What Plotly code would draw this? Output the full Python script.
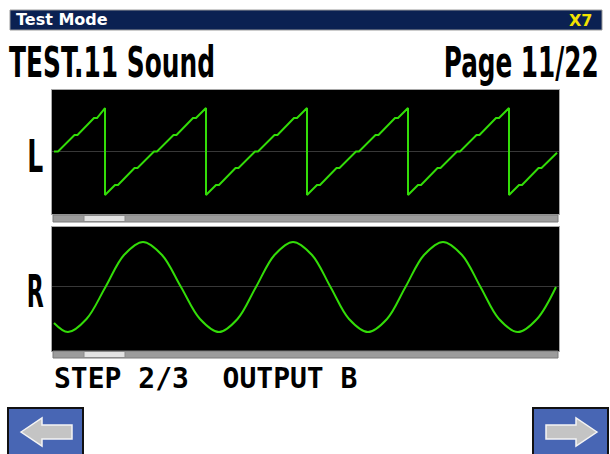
import plotly.graph_objects as go

W, H = 610, 454

# ---- data ----
# Left channel: stepped sawtooth (time in screen samples, level in units of amplitude)
left_t = [2, 6, 22.5, 25.5, 42, 45, 53, 53,
          63, 66, 82.5, 85.5, 102, 105, 121.5, 124.5, 141, 144, 154, 154,
          164, 167, 183.5, 186.5, 203, 206, 222.5, 225.5, 242, 245, 255, 255,
          265, 268, 284.5, 287.5, 304, 307, 323.5, 326.5, 343, 346, 356, 356,
          366, 369, 385.5, 388.5, 405, 408, 424.5, 427.5, 444, 447, 457, 457,
          467, 470, 486.5, 489.5, 505]
left_v = [0, 0, 0.38, 0.38, 0.77, 0.77, 1, -1,
          -0.77, -0.77, -0.38, -0.38, 0, 0, 0.38, 0.38, 0.77, 0.77, 1, -1,
          -0.77, -0.77, -0.38, -0.38, 0, 0, 0.38, 0.38, 0.77, 0.77, 1, -1,
          -0.77, -0.77, -0.38, -0.38, 0, 0, 0.38, 0.38, 0.77, 0.77, 1, -1,
          -0.77, -0.77, -0.38, -0.38, 0, 0, 0.38, 0.38, 0.77, 0.77, 1, -1,
          -0.77, -0.77, -0.38, -0.38, -0.03]

# Right channel: sine
right_t = [2, 16, 34.5, 53.5, 72, 91, 110, 129, 148, 167, 185.5, 204, 222.5, 241,
           260, 278.5, 297, 316, 335, 353.5, 372, 391, 410, 428.5, 447, 466, 485, 504]
right_v = [-0.8, -1, -0.71, 0, 0.71, 1, 0.71, 0, -0.71, -1, -0.71, 0, 0.71, 1,
           0.71, 0, -0.71, -1, -0.71, 0, 0.71, 1, 0.71, 0, -0.71, -1, -0.71, 0]

header_left = "Test Mode"
header_right = "X7"
title_left = "TEST.11 Sound"
title_right = "Page 11/22"
channel_labels = ["L", "R"]
status_text = "STEP 2/3  OUTPUT B"

# ---- helpers (pixel -> paper) ----
def px(x):
    return x / W

def py(y):
    return 1 - y / H

GREEN = "#33dd08"

fig = go.Figure()
fig.add_trace(go.Scatter(x=left_t, y=left_v, mode="lines",
                         line=dict(color=GREEN, width=2), xaxis="x", yaxis="y",
                         hoverinfo="skip"))
fig.add_trace(go.Scatter(x=right_t, y=right_v, mode="lines",
                         line=dict(color=GREEN, width=2, shape="spline"),
                         xaxis="x2", yaxis="y2", hoverinfo="skip"))

axis_common = dict(showgrid=False, showticklabels=False, ticks="", showline=True,
                   mirror=True, linecolor="#a8a8a8", linewidth=1, fixedrange=True)

fig.update_layout(
    width=W, height=H, margin=dict(l=0, r=0, t=0, b=0),
    paper_bgcolor="white", plot_bgcolor="black", showlegend=False,
    xaxis=dict(domain=[px(52), px(559)], range=[0, 507], zeroline=False, anchor="y", **axis_common),
    yaxis=dict(domain=[py(214), py(90)], range=[-1.437, 1.414], zeroline=True,
               zerolinecolor="#383838", zerolinewidth=1, anchor="x", **axis_common),
    xaxis2=dict(domain=[px(52), px(559)], range=[0, 507], zeroline=False, anchor="y2", **axis_common),
    yaxis2=dict(domain=[py(351), py(227)], range=[-1.42, 1.33], zeroline=True,
                zerolinecolor="#383838", zerolinewidth=1, anchor="x2", **axis_common),
)

shapes = []
# header bar
shapes.append(dict(type="rect", xref="paper", yref="paper", x0=px(10), x1=px(602), y0=py(30), y1=py(10),
                   fillcolor="#0b2152", line=dict(color="#9a9a9a", width=1), layer="below"))
# scroll strips + thumbs
for top in (215, 351):
    shapes.append(dict(type="rect", xref="paper", yref="paper", x0=px(53), x1=px(558),
                       y0=py(top + 7), y1=py(top), fillcolor="#9c9c9c",
                       line=dict(color="#7a7a7a", width=1)))
    shapes.append(dict(type="rect", xref="paper", yref="paper", x0=px(84), x1=px(125),
                       y0=py(top + 6.5), y1=py(top + 0.5), fillcolor="#e2e2e2",
                       line=dict(color="#8a8a8a", width=1)))
# buttons
for bx0, bx1 in ((8, 83), (533, 608)):
    shapes.append(dict(type="rect", xref="paper", yref="paper", x0=px(bx0), x1=px(bx1),
                       y0=py(458), y1=py(408), fillcolor="#4866b4",
                       line=dict(color="#111111", width=2)))

def path(points):
    s = "M " + " L ".join(f"{px(x):.5f},{py(y):.5f}" for x, y in points) + " Z"
    return s

left_arrow = [(21, 432), (42, 418), (42, 425), (72, 425), (72, 439), (42, 439), (42, 446)]
right_arrow = [(597, 432), (576, 418), (576, 425), (546, 425), (546, 439), (576, 439), (576, 446)]
for pts in (left_arrow, right_arrow):
    shapes.append(dict(type="path", xref="paper", yref="paper", path=path(pts),
                       fillcolor="#c4c4c4", line=dict(color="#f4f4f4", width=1.5)))
fig.update_layout(shapes=shapes)

BIG = "DejaVu Sans"
ann = []
ann.append(dict(text="<b>" + header_left + "</b>", x=px(14), y=py(19.5), xanchor="left", yanchor="middle",
                font=dict(family="DejaVu Sans", size=16, color="white")))
ann.append(dict(text="<b>" + header_right + "</b>", x=px(594), y=py(20.5), xanchor="right", yanchor="middle",
                font=dict(family="DejaVu Sans", size=16, color="#f2e200")))
ann.append(dict(text="<b>" + title_left + "</b>", x=px(7), y=py(62), xanchor="left", yanchor="middle",
                font=dict(family=BIG, size=43, color="black")))
ann.append(dict(text="<b>" + title_right + "</b>", x=px(601), y=py(62), xanchor="right", yanchor="middle",
                font=dict(family=BIG, size=43, color="black")))
ann.append(dict(text="<b>" + channel_labels[0] + "</b>", x=px(35), y=py(156.5), xanchor="center", yanchor="middle",
                font=dict(family=BIG, size=45, color="black")))
ann.append(dict(text="<b>" + channel_labels[1] + "</b>", x=px(35), y=py(291), xanchor="center", yanchor="middle",
                font=dict(family=BIG, size=45, color="black")))
ann.append(dict(text="<b>" + status_text + "</b>", x=px(52), y=py(378.5), xanchor="left", yanchor="middle",
                font=dict(family="DejaVu Sans Mono", size=28, color="black")))
for a in ann:
    a.update(xref="paper", yref="paper", showarrow=False)
fig.update_layout(annotations=ann)

# remove page margin and horizontally condense the tall display-font labels
post_js = """
document.body.style.margin = '0';
var gd = document.getElementById('{plot_id}');
var specs = [[2, 206, 'left'], [3, 155, 'right'], [4, 16, 'center'], [5, 17, 'center']];
specs.forEach(function (s) {
  var g = gd.querySelector('.annotation[data-index="' + s[0] + '"]');
  if (!g) return;
  var t = g.querySelector('text');
  var w = t.getBBox().width;
  if (!w) return;
  t.style.transformBox = 'fill-box';
  t.style.transformOrigin = s[2] + ' center';
  t.style.transform = 'scaleX(' + (s[1] / w) + ')';
});
"""

fig.write_html("out.html", post_script=post_js, config={"displayModeBar": False})
